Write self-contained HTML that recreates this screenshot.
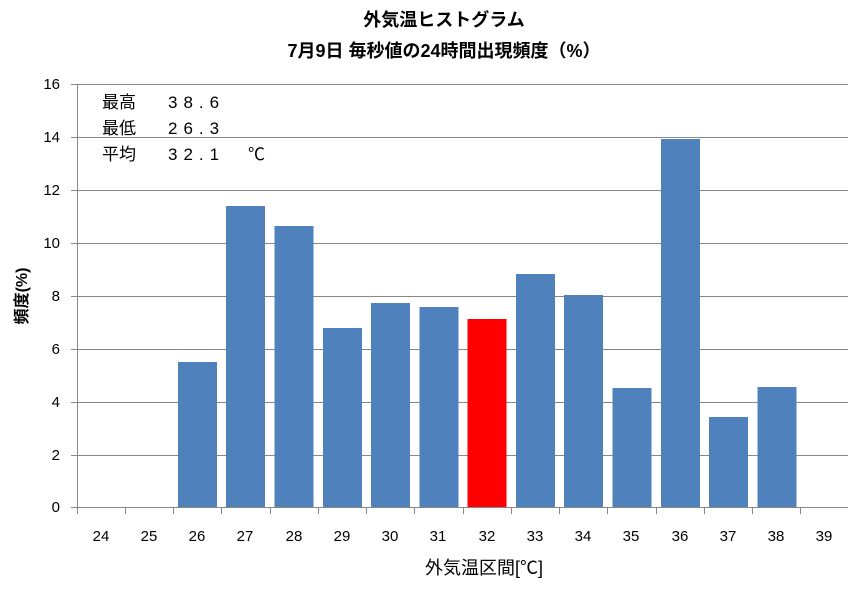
<!DOCTYPE html><html><head><meta charset="utf-8"><style>body{margin:0;background:#fff}</style></head><body>
<svg width="850" height="588" xmlns="http://www.w3.org/2000/svg" font-family="'Liberation Sans','Noto Sans CJK JP',sans-serif">
<rect width="850" height="588" fill="#fff"/>
<text x="444" y="26" font-size="18" font-weight="bold" text-anchor="middle">外気温ヒストグラム</text>
<text x="444" y="57" font-size="18" font-weight="bold" text-anchor="middle">7月9日 毎秒値の24時間出現頻度（%）</text>
<g stroke="#888" stroke-width="1">
<line x1="71" y1="84.5" x2="848" y2="84.5"/><line x1="71" y1="137.5" x2="848" y2="137.5"/>
<line x1="71" y1="190.5" x2="848" y2="190.5"/><line x1="71" y1="243.5" x2="848" y2="243.5"/>
<line x1="71" y1="296.5" x2="848" y2="296.5"/><line x1="71" y1="349.5" x2="848" y2="349.5"/>
<line x1="71" y1="402.5" x2="848" y2="402.5"/><line x1="71" y1="455.5" x2="848" y2="455.5"/>
<line x1="71" y1="507.5" x2="848" y2="507.5"/><line x1="77.5" y1="84" x2="77.5" y2="507"/>
</g>
<g font-size="15" fill="#000" text-anchor="end">
<text x="60" y="89">16</text><text x="60" y="142">14</text><text x="60" y="195">12</text><text x="60" y="248">10</text>
<text x="60" y="301">8</text><text x="60" y="354">6</text><text x="60" y="407">4</text><text x="60" y="460">2</text><text x="60" y="512">0</text>
</g>
<g fill="#4f81bd">
<rect x="178" y="362" width="39" height="145"/>
<rect x="226" y="206" width="39" height="301"/>
<rect x="274.5" y="226" width="39" height="281"/>
<rect x="323" y="328" width="39" height="179"/>
<rect x="371" y="303" width="39" height="204"/>
<rect x="419.5" y="307" width="39" height="200"/>
<rect x="516" y="274" width="39" height="233"/>
<rect x="564" y="295" width="39" height="212"/>
<rect x="612.5" y="388" width="39" height="119"/>
<rect x="661" y="139" width="39" height="368"/>
<rect x="709" y="417" width="39" height="90"/>
<rect x="757.5" y="387" width="39" height="120"/>
</g>
<rect x="467.5" y="319" width="39" height="188" fill="#ff0000"/>
<g font-size="15" text-anchor="middle">
<text x="101" y="541">24</text><text x="149" y="541">25</text><text x="197" y="541">26</text><text x="245" y="541">27</text>
<text x="294" y="541">28</text><text x="342" y="541">29</text><text x="390" y="541">30</text><text x="438" y="541">31</text>
<text x="487" y="541">32</text><text x="535" y="541">33</text><text x="583" y="541">34</text><text x="631" y="541">35</text>
<text x="680" y="541">36</text><text x="728" y="541">37</text><text x="776" y="541">38</text><text x="824" y="541">39</text>
</g>
<g stroke="#888">
<line x1="77.5" y1="507" x2="77.5" y2="514"/><line x1="125.5" y1="507" x2="125.5" y2="514"/><line x1="173.5" y1="507" x2="173.5" y2="514"/>
<line x1="221.5" y1="507" x2="221.5" y2="514"/><line x1="270.5" y1="507" x2="270.5" y2="514"/><line x1="318.5" y1="507" x2="318.5" y2="514"/>
<line x1="366.5" y1="507" x2="366.5" y2="514"/><line x1="414.5" y1="507" x2="414.5" y2="514"/><line x1="463.5" y1="507" x2="463.5" y2="514"/>
<line x1="511.5" y1="507" x2="511.5" y2="514"/><line x1="559.5" y1="507" x2="559.5" y2="514"/><line x1="607.5" y1="507" x2="607.5" y2="514"/>
<line x1="656.5" y1="507" x2="656.5" y2="514"/><line x1="704.5" y1="507" x2="704.5" y2="514"/><line x1="752.5" y1="507" x2="752.5" y2="514"/>
<line x1="800.5" y1="507" x2="800.5" y2="514"/>
</g>
<text x="484" y="574" font-size="18" text-anchor="middle">外気温区間[℃]</text>
<text transform="translate(27,296) rotate(-90)" font-size="16" text-anchor="middle" font-weight="bold">頻度(%)</text>
<g font-size="17">
<text x="102" y="108">最高</text><text x="168" y="108" letter-spacing="6">38.6</text>
<text x="102" y="134">最低</text><text x="168" y="134" letter-spacing="6">26.3</text>
<text x="102" y="160">平均</text><text x="168" y="160" letter-spacing="6">32.1</text><text x="248" y="160">℃</text>
</g>
</svg>
</body></html>
